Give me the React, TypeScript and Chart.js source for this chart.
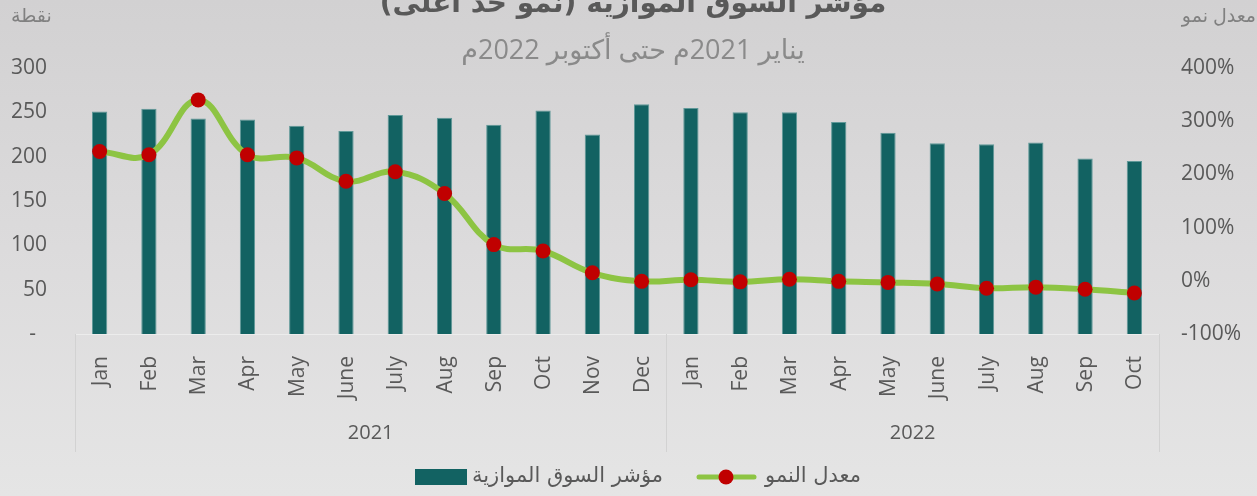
import React, { useEffect, useRef } from 'react';
import { Chart, registerables } from 'chart.js';

Chart.register(...registerables);

const FONT = "'Open Sans', 'DejaVu Sans', sans-serif";
const AR_FONT = "'DejaVu Sans', sans-serif";

const titleText = 'مؤشر السوق الموازية (نمو حد أعلى)';
const subtitleText = 'يناير 2021م حتى أكتوبر 2022م';
const leftAxisTitle = 'نقطة';
const rightAxisTitle = 'معدل نمو';
const barSeriesName = 'مؤشر السوق الموازية';
const lineSeriesName = 'معدل النمو';

const months2021 = ['Jan', 'Feb', 'Mar', 'Apr', 'May', 'June', 'July', 'Aug', 'Sep', 'Oct', 'Nov', 'Dec'];
const months2022 = ['Jan', 'Feb', 'Mar', 'Apr', 'May', 'June', 'July', 'Aug', 'Sep', 'Oct'];
const yearLabels = ['2021', '2022'];

const indexValues = [251, 254, 243, 242, 235, 229, 247, 244, 236, 252, 225, 259, 255, 250, 250, 239, 227, 215, 214, 216, 198, 195];
const growthValues = [243, 237, 340, 237, 231, 187, 205, 164, 68, 56, 15, -1, 2, -2, 3, -1, -3, -6, -14, -12, -16, -23];

const leftTickMin = 0;
const leftTickMax = 300;
const leftTickStep = 50;
const rightTickMin = -100;
const rightTickMax = 400;
const rightTickStep = 100;

const BAR_COLOR = '#126262';
const LINE_COLOR = '#8DC443';
const POINT_COLOR = '#C00000';
const TEXT_COLOR = '#595959';

const categories = [...months2021, ...months2022];
const yearGroups = [months2021.length, months2022.length];

const overlayPlugin = {
  id: 'overlay',
  afterDraw(chart: any) {
    const ctx: CanvasRenderingContext2D = chart.ctx;
    const xs = chart.scales.x;
    const { left, right, bottom } = chart.chartArea;
    ctx.save();

    // Titles
    ctx.direction = 'rtl';
    ctx.textAlign = 'center';
    ctx.textBaseline = 'alphabetic';
    ctx.fillStyle = TEXT_COLOR;
    ctx.font = `bold 28px ${AR_FONT}`;
    ctx.fillText(titleText, 633, 12);
    ctx.fillStyle = '#8a8a8a';
    ctx.font = `27px ${FONT}`;
    ctx.fillText(subtitleText, 633, 59);

    // Axis titles
    ctx.fillStyle = '#808080';
    ctx.font = `19px ${FONT}`;
    ctx.textAlign = 'left';
    ctx.fillText(leftAxisTitle, 11, 22);
    ctx.textAlign = 'right';
    ctx.fillText(rightAxisTitle, 1256, 22);

    // Category axis frame
    const frameBottom = 452;
    ctx.lineWidth = 1;
    ctx.strokeStyle = '#ececec';
    ctx.beginPath();
    ctx.moveTo(left, bottom + 0.5);
    ctx.lineTo(right, bottom + 0.5);
    ctx.stroke();
    ctx.strokeStyle = '#d2d2d2';
    const n = categories.length;
    const boundaries: number[] = [left];
    let acc = 0;
    yearGroups.forEach((g) => {
      acc += g;
      const px = acc >= n ? right : (xs.getPixelForTick(acc - 1) + xs.getPixelForTick(acc)) / 2;
      boundaries.push(px);
    });
    boundaries.forEach((bx) => {
      ctx.beginPath();
      ctx.moveTo(Math.round(bx) + 0.5, bottom);
      ctx.lineTo(Math.round(bx) + 0.5, frameBottom);
      ctx.stroke();
    });

    // Month labels
    ctx.direction = 'ltr';
    ctx.fillStyle = TEXT_COLOR;
    ctx.font = `21px ${FONT}`;
    for (let i = 0; i < n; i++) {
      const px = xs.getPixelForTick(i);
      ctx.save();
      ctx.translate(px + 1, bottom + 22);
      ctx.rotate(-Math.PI / 2);
      ctx.textAlign = 'right';
      ctx.textBaseline = 'middle';
      ctx.fillText(categories[i], 0, 0);
      ctx.restore();
    }

    // Year labels
    ctx.textAlign = 'center';
    ctx.textBaseline = 'middle';
    ctx.font = `20px ${FONT}`;
    yearLabels.forEach((y, i) => {
      const cx = (boundaries[i] + boundaries[i + 1]) / 2;
      ctx.fillText(y, cx, 433);
    });

    // Legend
    const ly = 477;
    ctx.fillStyle = BAR_COLOR;
    ctx.fillRect(415, ly - 8, 52, 16);
    ctx.direction = 'rtl';
    ctx.fillStyle = TEXT_COLOR;
    ctx.font = `21px ${AR_FONT}`;
    ctx.textAlign = 'right';
    ctx.textBaseline = 'middle';
    ctx.fillText(barSeriesName, 663, ly);
    ctx.fillText(lineSeriesName, 861, ly);
    ctx.strokeStyle = LINE_COLOR;
    ctx.lineWidth = 5;
    ctx.lineCap = 'round';
    ctx.beginPath();
    ctx.moveTo(699, ly);
    ctx.lineTo(754, ly);
    ctx.stroke();
    ctx.fillStyle = POINT_COLOR;
    ctx.beginPath();
    ctx.arc(726, ly, 7.5, 0, Math.PI * 2);
    ctx.fill();

    ctx.restore();
  },
};

export default function App() {
  const canvasRef = useRef<HTMLCanvasElement | null>(null);

  useEffect(() => {
    document.body.style.margin = '0';
    const canvas = canvasRef.current;
    if (!canvas) return;
    const chart = new Chart(canvas, {
      data: {
        labels: categories,
        datasets: [
          {
            type: 'line',
            label: lineSeriesName,
            data: growthValues,
            yAxisID: 'y1',
            borderColor: LINE_COLOR,
            borderWidth: 6,
            tension: 0.4,
            pointRadius: 7.5,
            pointHoverRadius: 7.5,
            pointBackgroundColor: POINT_COLOR,
            pointBorderColor: POINT_COLOR,
            pointBorderWidth: 0,
            order: 0,
          },
          {
            type: 'bar',
            label: barSeriesName,
            data: indexValues,
            yAxisID: 'y',
            backgroundColor: BAR_COLOR,
            borderColor: '#5f9898',
            borderWidth: 1,
            barPercentage: 0.31,
            categoryPercentage: 1,
            order: 1,
          },
        ],
      } as any,
      options: {
        responsive: false,
        animation: false,
        events: [],
        layout: { padding: { top: 68, bottom: 162, left: 0, right: 0 } },
        plugins: {
          legend: { display: false },
          title: { display: false },
          tooltip: { enabled: false },
        },
        scales: {
          x: {
            type: 'category',
            offset: true,
            grid: { display: false, drawTicks: false },
            border: { display: false },
            ticks: { display: false },
            afterFit: (s: any) => {
              s.height = 0;
            },
          },
          y: {
            position: 'left',
            min: leftTickMin,
            max: leftTickMax,
            grid: { display: false, drawTicks: false },
            border: { display: false },
            ticks: {
              stepSize: leftTickStep,
              padding: 28,
              color: TEXT_COLOR,
              font: { family: FONT, size: 21 },
              callback: (v: any) => (Number(v) === 0 ? '-  ' : String(v)),
            },
            afterFit: (s: any) => {
              s.width = 75;
            },
          },
          y1: {
            position: 'right',
            min: rightTickMin,
            max: rightTickMax,
            grid: { display: false, drawTicks: false },
            border: { display: false },
            ticks: {
              stepSize: rightTickStep,
              padding: 22,
              color: TEXT_COLOR,
              font: { family: FONT, size: 21 },
              callback: (v: any) => `${v}%`,
            },
            afterFit: (s: any) => {
              s.width = 98;
            },
          },
        },
      } as any,
      plugins: [overlayPlugin],
    });
    return () => chart.destroy();
  }, []);

  return (
    <div
      style={{
        position: 'absolute',
        left: 0,
        top: 0,
        width: 1257,
        height: 496,
        background: 'linear-gradient(to bottom, #d2d1d2 0%, #dcdbdc 50%, #e5e5e5 100%)',
        overflow: 'hidden',
      }}
    >
      <canvas ref={canvasRef} width={1257} height={496} style={{ display: 'block' }} />
    </div>
  );
}
